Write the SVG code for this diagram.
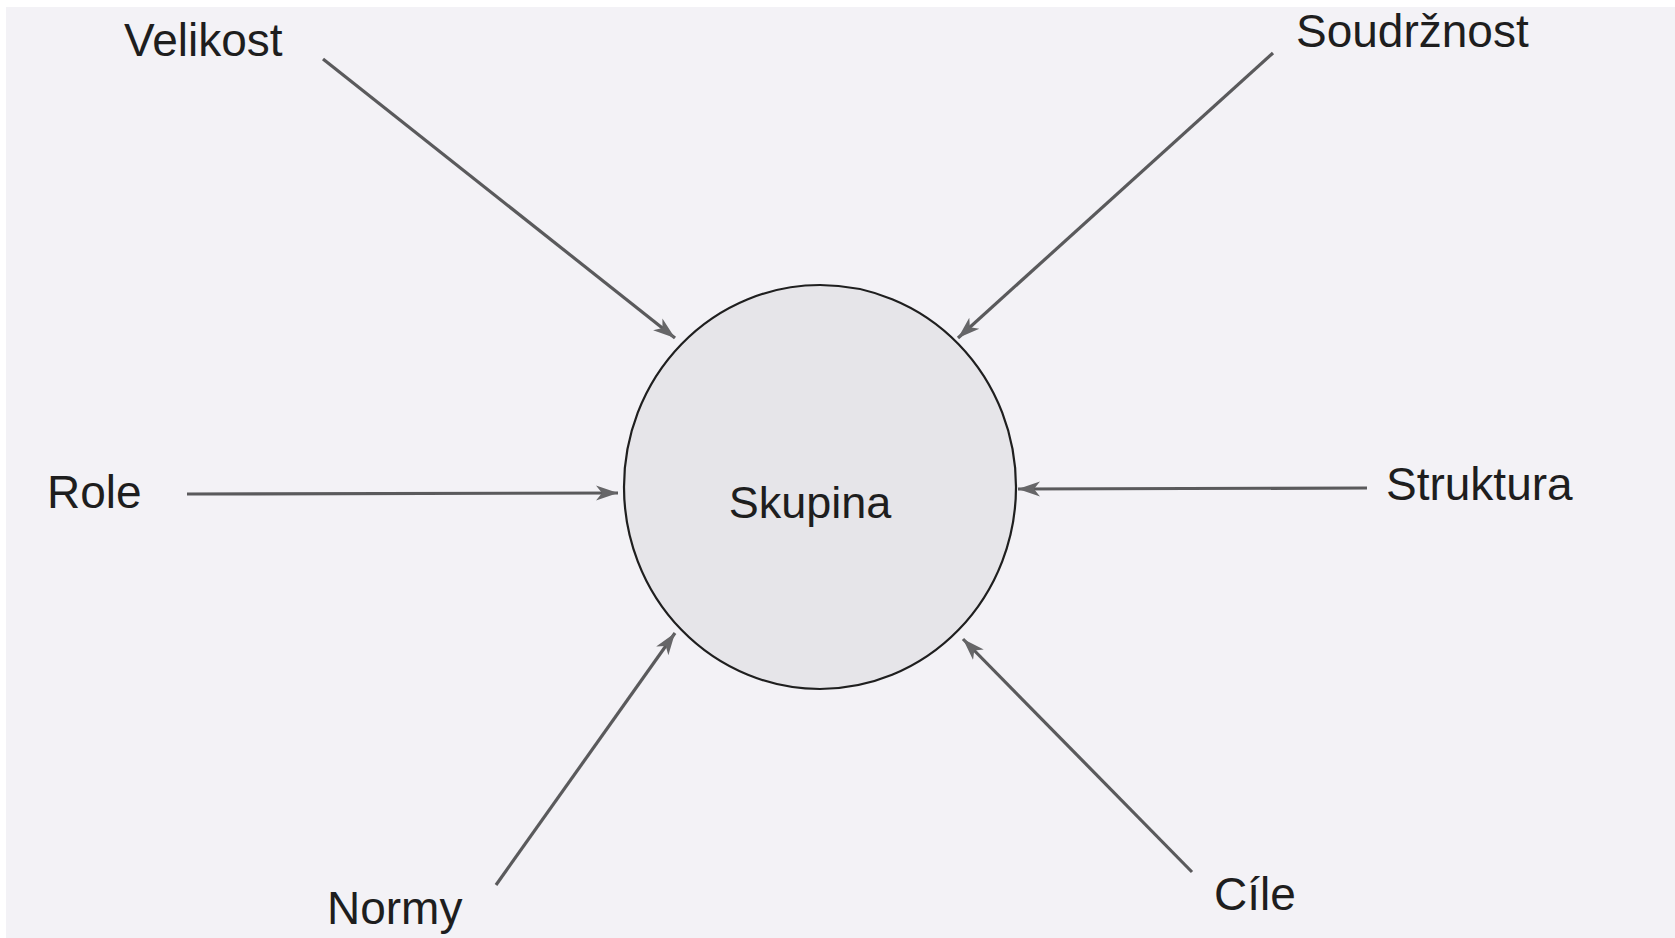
<svg xmlns="http://www.w3.org/2000/svg" width="1675" height="938" viewBox="0 0 1675 938">
  <style>
    .lbl { font-family: "Liberation Sans", Arial, sans-serif; font-size: 46px; fill: #1e1e1e; }
    .ctr { font-family: "Liberation Sans", Arial, sans-serif; font-size: 45px; fill: #1e1e1e; text-anchor: middle; }
    .conn { stroke: #5a5a5c; stroke-width: 3.2; fill: none; marker-end: url(#arr); }
  </style>
  <defs>
    <marker id="arr" markerUnits="userSpaceOnUse" markerWidth="24" markerHeight="18" refX="22" refY="9" orient="auto">
      <path d="M0,1.5 L22,9 L0,16.5 L6,9 z" fill="#666668"/>
    </marker>
  </defs>
  <rect x="0" y="0" width="1675" height="938" fill="#ffffff"/>
  <rect x="6" y="7" width="1669" height="931" fill="#f3f2f6"/>

  <g id="connectors">
    <line class="conn" x1="323" y1="59" x2="675" y2="338"/>
    <line class="conn" x1="1273" y1="53" x2="958" y2="338"/>
    <line class="conn" x1="187" y1="494" x2="618" y2="493"/>
    <line class="conn" x1="1367" y1="488" x2="1018" y2="489"/>
    <line class="conn" x1="496" y1="885" x2="675" y2="633"/>
    <line class="conn" x1="1192" y1="872" x2="963" y2="639"/>
  </g>

  <g id="node-skupina">
    <ellipse cx="820" cy="487" rx="196" ry="202" fill="#e6e5e9" stroke="#1f1f1f" stroke-width="2.2"/>
    <text class="ctr" x="810" y="518">Skupina</text>
  </g>
  <g id="node-velikost"><text class="lbl" x="124" y="56">Velikost</text></g>
  <g id="node-soudrznost"><text class="lbl" x="1296" y="47">Soudržnost</text></g>
  <g id="node-role"><text class="lbl" x="47" y="508">Role</text></g>
  <g id="node-struktura"><text class="lbl" x="1386" y="500">Struktura</text></g>
  <g id="node-normy"><text class="lbl" x="327" y="924">Normy</text></g>
  <g id="node-cile"><text class="lbl" x="1214" y="910">Cíle</text></g>
</svg>
